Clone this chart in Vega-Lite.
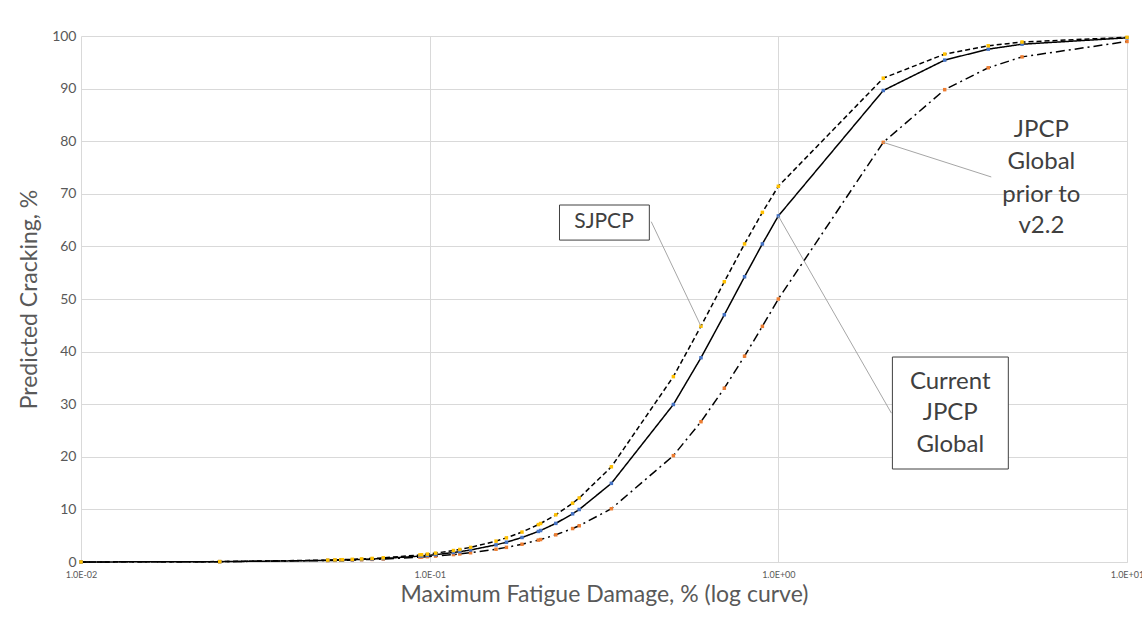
{
  "$schema": "https://vega.github.io/schema/vega-lite/v6.json",
  "width": 1046,
  "height": 526,
  "autosize": {"type": "none"},
  "padding": {"left": 81, "top": 36, "right": 15, "bottom": 55},
  "background": "white",
  "config": {
    "view": {"stroke": null},
    "font": "Lato",
    "axis": {
      "gridColor": "#d9d9d9",
      "gridWidth": 1,
      "ticks": false,
      "labelColor": "#595959",
      "titleColor": "#595959",
      "labelFont": "Lato",
      "titleFont": "Lato",
      "titleFontWeight": "normal",
      "titleFontSize": 23
    }
  },
  "datasets": {
    "curves": [
      {"fd": 0.01, "SJPCP": 0.01, "Current": 0.009, "Prior": 0.011},
      {"fd": 0.025, "SJPCP": 0.075, "Current": 0.064, "Prior": 0.067},
      {"fd": 0.051, "SJPCP": 0.357, "Current": 0.301, "Prior": 0.275},
      {"fd": 0.0535, "SJPCP": 0.397, "Current": 0.333, "Prior": 0.303},
      {"fd": 0.0556, "SJPCP": 0.431, "Current": 0.362, "Prior": 0.326},
      {"fd": 0.0562, "SJPCP": 0.442, "Current": 0.371, "Prior": 0.333},
      {"fd": 0.06, "SJPCP": 0.51, "Current": 0.427, "Prior": 0.379},
      {"fd": 0.0638, "SJPCP": 0.583, "Current": 0.488, "Prior": 0.428},
      {"fd": 0.0684, "SJPCP": 0.679, "Current": 0.567, "Prior": 0.491},
      {"fd": 0.0736, "SJPCP": 0.797, "Current": 0.664, "Prior": 0.568},
      {"fd": 0.0938, "SJPCP": 1.35, "Current": 1.12, "Prior": 0.91},
      {"fd": 0.0948, "SJPCP": 1.38, "Current": 1.14, "Prior": 0.93},
      {"fd": 0.0985, "SJPCP": 1.5, "Current": 1.24, "Prior": 1.01},
      {"fd": 0.104, "SJPCP": 1.69, "Current": 1.4, "Prior": 1.12},
      {"fd": 0.117, "SJPCP": 2.18, "Current": 1.8, "Prior": 1.41},
      {"fd": 0.122, "SJPCP": 2.38, "Current": 1.96, "Prior": 1.53},
      {"fd": 0.131, "SJPCP": 2.78, "Current": 2.28, "Prior": 1.76},
      {"fd": 0.155, "SJPCP": 3.97, "Current": 3.26, "Prior": 2.43},
      {"fd": 0.166, "SJPCP": 4.59, "Current": 3.76, "Prior": 2.78},
      {"fd": 0.184, "SJPCP": 5.69, "Current": 4.66, "Prior": 3.38},
      {"fd": 0.205, "SJPCP": 7.11, "Current": 5.81, "Prior": 4.16},
      {"fd": 0.208, "SJPCP": 7.32, "Current": 5.99, "Prior": 4.27},
      {"fd": 0.23, "SJPCP": 8.97, "Current": 7.34, "Prior": 5.17},
      {"fd": 0.257, "SJPCP": 11.18, "Current": 9.16, "Prior": 6.36},
      {"fd": 0.2685, "SJPCP": 12.17, "Current": 9.98, "Prior": 6.89},
      {"fd": 0.332, "SJPCP": 18.1, "Current": 14.95, "Prior": 10.13},
      {"fd": 0.5, "SJPCP": 35.24, "Current": 29.94, "Prior": 20.22},
      {"fd": 0.6, "SJPCP": 44.83, "Current": 38.83, "Prior": 26.67},
      {"fd": 0.7, "SJPCP": 53.28, "Current": 47.0, "Prior": 33.04},
      {"fd": 0.8, "SJPCP": 60.47, "Current": 54.23, "Prior": 39.13},
      {"fd": 0.9, "SJPCP": 66.47, "Current": 60.47, "Prior": 44.8},
      {"fd": 1, "SJPCP": 71.43, "Current": 65.79, "Prior": 50.0},
      {"fd": 2, "SJPCP": 91.99, "Current": 89.64, "Prior": 79.78},
      {"fd": 3, "SJPCP": 96.56, "Current": 95.42, "Prior": 89.8},
      {"fd": 4, "SJPCP": 98.14, "Current": 97.5, "Prior": 93.96},
      {"fd": 5, "SJPCP": 98.85, "Current": 98.44, "Prior": 96.03},
      {"fd": 10, "SJPCP": 99.75, "Current": 99.65, "Prior": 98.96}
    ],
    "leaders": [
      {"fd": 0.432, "crack": 64.7, "fd2": 0.6, "crack2": 44.83},
      {"fd": 2.11, "crack": 28.3, "fd2": 1, "crack2": 65.79},
      {"fd": 4.08, "crack": 73.2, "fd2": 2, "crack2": 79.78}
    ],
    "boxes": [
      {"fd": 0.2357, "fd2": 0.4266, "crack": 67.87, "crack2": 61.2},
      {"fd": 2.124, "fd2": 4.567, "crack": 38.97, "crack2": 17.68}
    ],
    "labels": [
      {"fd": 0.3163, "crack": 64.6, "label": "SJPCP"},
      {"fd": 3.112, "crack": 34.2, "label": "Current"},
      {"fd": 3.112, "crack": 28.3, "label": "JPCP"},
      {"fd": 3.112, "crack": 22.2, "label": "Global"},
      {"fd": 5.68, "crack": 82.1, "label": "JPCP"},
      {"fd": 5.68, "crack": 76.0, "label": "Global"},
      {"fd": 5.68, "crack": 69.8, "label": "prior to"},
      {"fd": 5.68, "crack": 63.9, "label": "v2.2"}
    ]
  },
  "layer": [
    {
      "data": {"name": "curves"},
      "transform": [{"fold": ["SJPCP", "Current", "Prior"], "as": ["series", "crack"]}],
      "mark": {"type": "line", "color": "black", "strokeWidth": 1.5},
      "encoding": {
        "x": {
          "field": "fd", "type": "quantitative",
          "scale": {"type": "log", "domain": [0.01, 10], "nice": false},
          "axis": {
            "title": "Maximum Fatigue Damage, % (log curve)",
            "values": [0.01, 0.1, 1, 10],
            "labelExpr": "datum.value < 0.05 ? '1.0E-02' : datum.value < 0.5 ? '1.0E-01' : datum.value < 5 ? '1.0E+00' : '1.0E+01'",
            "labelFontSize": 9,
            "labelPadding": 8,
            "titlePadding": 4,
            "domain": true,
            "domainColor": "#d9d9d9",
            "labelFlush": false
          }
        },
        "y": {
          "field": "crack", "type": "quantitative",
          "scale": {"domain": [0, 100], "nice": false},
          "axis": {
            "title": "Predicted Cracking, %",
            "values": [0, 10, 20, 30, 40, 50, 60, 70, 80, 90, 100],
            "labelFontSize": 14,
            "labelPadding": 5,
            "titlePadding": 10,
            "domain": false
          }
        },
        "detail": {"field": "series"},
        "strokeDash": {
          "field": "series", "type": "nominal",
          "scale": {"domain": ["SJPCP", "Current", "Prior"], "range": [[5, 3], [1, 0], [9, 4, 2, 4]]},
          "legend": null
        }
      }
    },
    {
      "data": {"name": "curves"},
      "transform": [{"fold": ["Prior", "Current", "SJPCP"], "as": ["series", "crack"]}],
      "mark": {"type": "point", "filled": true, "shape": "square", "size": 12, "opacity": 1},
      "encoding": {
        "x": {"field": "fd", "type": "quantitative", "title": "Maximum Fatigue Damage, % (log curve)"},
        "y": {"field": "crack", "type": "quantitative", "title": "Predicted Cracking, %"},
        "color": {
          "field": "series", "type": "nominal",
          "scale": {"domain": ["SJPCP", "Current", "Prior"], "range": ["#FFC000", "#4472C4", "#ED7D31"]},
          "legend": null
        }
      }
    },
    {
      "data": {"name": "leaders"},
      "mark": {"type": "rule", "color": "#a6a6a6", "strokeWidth": 1},
      "encoding": {
        "x": {"field": "fd", "type": "quantitative", "title": "Maximum Fatigue Damage, % (log curve)"},
        "y": {"field": "crack", "type": "quantitative", "title": "Predicted Cracking, %"},
        "x2": {"field": "fd2"},
        "y2": {"field": "crack2"}
      }
    },
    {
      "data": {"name": "boxes"},
      "mark": {"type": "rect", "fill": "white", "stroke": "#404040", "strokeWidth": 1},
      "encoding": {
        "x": {"field": "fd", "type": "quantitative", "title": "Maximum Fatigue Damage, % (log curve)"},
        "y": {"field": "crack", "type": "quantitative", "title": "Predicted Cracking, %"},
        "x2": {"field": "fd2"},
        "y2": {"field": "crack2"}
      }
    },
    {
      "data": {"name": "labels"},
      "mark": {"type": "text", "font": "Lato", "color": "#404040", "align": "center", "baseline": "middle"},
      "encoding": {
        "x": {"field": "fd", "type": "quantitative", "title": "Maximum Fatigue Damage, % (log curve)"},
        "y": {"field": "crack", "type": "quantitative", "title": "Predicted Cracking, %"},
        "text": {"field": "label"},
        "size": {"condition": {"test": "datum.label == 'SJPCP'", "value": 21}, "value": 24}
      }
    }
  ]
}
